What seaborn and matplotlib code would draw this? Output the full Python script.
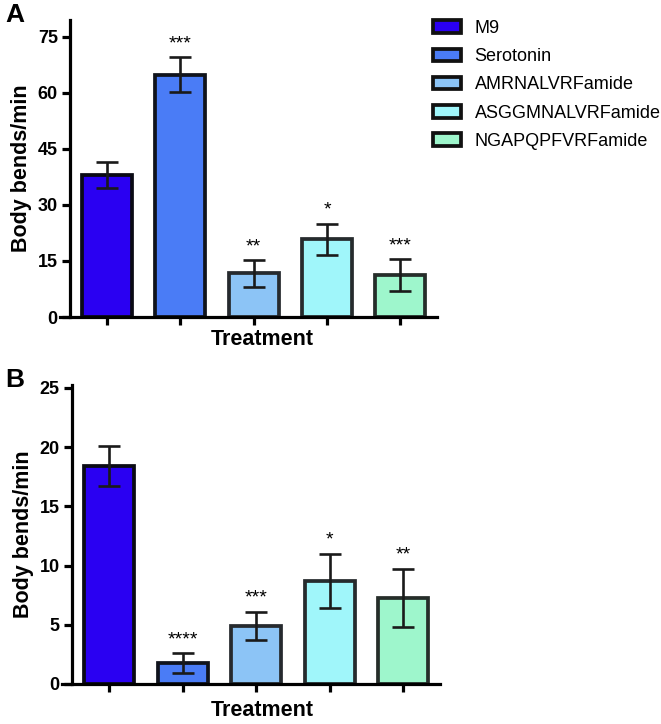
import matplotlib
matplotlib.use('Agg')
import pandas as pd
import seaborn as sns
import matplotlib.pyplot as plt
from matplotlib.patches import Patch

# Dados
treatments = ['M9', 'Serotonin', 'AMRNALVRFamide', 'ASGGMNALVRFamide', 'NGAPQPFVRFamide']
colors = ['#2a00f2', '#4a7cf6', '#8cc4f6', '#a0f6fa', '#9ef6cc']
edges = ['#0a0a14', '#10131c', '#262a2e', '#262b2d', '#262d2a']

mean_a = [38.0, 64.8, 11.7, 20.8, 11.2]
sem_a = [3.6, 4.7, 3.6, 4.2, 4.2]
stars_a = ['', '***', '**', '*', '***']

mean_b = [18.4, 1.75, 4.9, 8.7, 7.3]
sem_b = [1.7, 0.85, 1.2, 2.3, 2.45]
stars_b = ['', '****', '***', '*', '**']

sns.set_style('ticks')
plt.rcParams['font.family'] = ['Liberation Sans', 'DejaVu Sans']
plt.rcParams['text.color'] = 'black'
plt.rcParams['axes.labelcolor'] = 'black'

fig = plt.figure(figsize=(6.61, 7.24), dpi=100)
ax_a = fig.add_axes([60 / 661, 1 - 317 / 724, 377 / 661, 297 / 724])
ax_b = fig.add_axes([62 / 661, 1 - 684 / 724, 378 / 661, 299 / 724])


def painel(ax, means, sems, stars, ymax, ticks):
    df = pd.DataFrame({'Treatment': treatments, 'valor': means})
    sns.barplot(data=df, x='Treatment', y='valor', hue='Treatment',
                palette=colors, width=0.68, errorbar=None, legend=False,
                linewidth=2.7, saturation=1, ax=ax)
    for bar, ec in zip(ax.patches, edges):
        bar.set_edgecolor(ec)
    ax.errorbar(range(len(means)), means, yerr=sems, fmt='none',
                ecolor='#1a1a1a', elinewidth=1.9, capsize=8, capthick=1.9)
    for i, s in enumerate(stars):
        if s:
            ax.annotate(s, (i, means[i] + sems[i]), xytext=(0, 3.5),
                        textcoords='offset points', ha='center', va='bottom',
                        fontsize=14, color='black')
    ax.set_xlim(-0.64, 4.5)
    ax.set_ylim(0, ymax)
    ax.set_yticks(ticks)
    ax.set_xticks(range(5))
    ax.set_xticklabels([''] * 5)
    sns.despine(ax=ax)
    ax.spines['left'].set_position(('data', -0.5))
    for sp in ['left', 'bottom']:
        ax.spines[sp].set_linewidth(2.3)
        ax.spines[sp].set_color('black')
    ax.tick_params(axis='both', direction='out', length=6, width=2.3,
                   colors='black', labelsize=13, pad=3)
    for lab in ax.get_yticklabels():
        lab.set_fontweight('bold')
    ax.set_xlabel('Treatment', fontsize=15.5, fontweight='bold')
    ax.set_ylabel('Body bends/min', fontsize=15.5, fontweight='bold', labelpad=4)


painel(ax_a, mean_a, sem_a, stars_a, 79.5, [0, 15, 30, 45, 60, 75])
painel(ax_b, mean_b, sem_b, stars_b, 25.25, [0, 5, 10, 15, 20, 25])
ax_a.xaxis.set_label_coords(0.537, -0.042)
ax_b.xaxis.set_label_coords(0.53, -0.052)

fig.text(5 / 661, 1 - 15 / 724, 'A', fontsize=19, fontweight='bold', va='center')
fig.text(5 / 661, 1 - 380 / 724, 'B', fontsize=19, fontweight='bold', va='center')

handles = [Patch(facecolor=c, edgecolor='#111111', linewidth=2.7) for c in colors]
fig.legend(handles, treatments, loc='upper left',
           bbox_to_anchor=(424 / 661, 1 - 11 / 724), frameon=False,
           fontsize=13, borderpad=0, handlelength=1.55, handleheight=0.7,
           handletextpad=0.75, labelspacing=0.62)

fig.savefig('out.png', dpi=100)
